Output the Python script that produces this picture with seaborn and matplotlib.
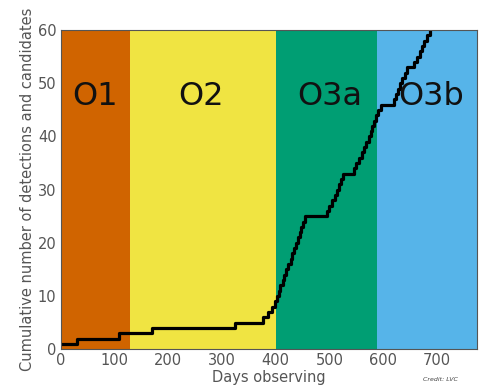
import numpy as np
import pandas as pd
import matplotlib
matplotlib.use("Agg")
import matplotlib.pyplot as plt
import seaborn as sns

# observing runs (start / end day) and colours
runs = ["O1", "O2", "O3a", "O3b"]
run_start = [0, 129, 401, 588]
run_end = [129, 401, 588, 775]
run_colors = ["#D06400", "#F0E442", "#009E73", "#56B4E9"]
run_label_x = [65, 262, 500, 690]

# day on which cumulative count reaches each value
event_days = [0, 31, 108, 170, 325, 377, 386, 393, 398, 402,
              406, 409, 413, 416, 420, 424, 428, 431, 435, 438,
              441, 445, 448, 451, 455, 496, 500, 505, 510, 514,
              518, 521, 525, 545, 550, 555, 560, 565, 569, 573,
              577, 580, 583, 586, 590, 596, 620, 624, 628, 632,
              636, 640, 645, 658, 664, 669, 673, 677, 682, 687]
counts = list(range(1, len(event_days) + 1))

df = pd.DataFrame({"day": event_days, "count": counts})

sns.set_style("white")
plt.rcParams["font.family"] = ["DejaVu Sans"]

fig = plt.figure(figsize=(4.81, 3.91), dpi=100)
ax = fig.add_axes([0.126, 0.107, 0.866, 0.816])

for name, s, e, c, lx in zip(runs, run_start, run_end, run_colors, run_label_x):
    ax.axvspan(s, e, color=c, lw=0, zorder=0)
    ax.text(lx, 47.5, name, ha="center", va="center", fontsize=23,
            color="#111111", zorder=3)

sns.lineplot(data=df, x="day", y="count", ax=ax, color="black", lw=2.3,
             drawstyle="steps-post", estimator=None, zorder=2)

ax.set_xlim(0, 775)
ax.set_ylim(0, 60)
ax.set_xticks([0, 100, 200, 300, 400, 500, 600, 700])
ax.set_yticks([0, 10, 20, 30, 40, 50, 60])
ax.tick_params(labelsize=10.5, colors="#555555", length=0, pad=3)
ax.set_xlabel("Days observing", fontsize=10.5, color="#555555", labelpad=1)
ax.set_ylabel("Cumulative number of detections and candidates", fontsize=10.5,
              color="#555555", labelpad=2)
for sp in ax.spines.values():
    sp.set_color("#555555")
    sp.set_linewidth(0.8)

fig.text(0.915, 0.025, "Credit: LVC", fontsize=4.5, style="italic",
         color="#444444", ha="center")

fig.savefig("out.png", dpi=100)
